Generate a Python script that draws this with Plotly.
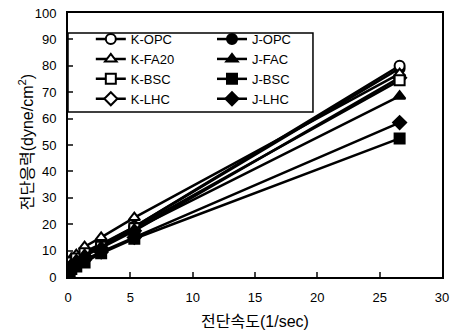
import plotly.graph_objects as go

shear_rate = [0.133, 0.266, 0.665, 1.33, 2.66, 5.32, 26.6]

k_opc = [4.5, 6.0, 7.5, 9.5, 12.5, 19.0, 80.0]
k_fa20 = [5.0, 7.0, 8.5, 11.5, 15.0, 22.5, 77.0]
k_bsc = [4.0, 5.5, 7.0, 9.0, 11.5, 18.5, 74.5]
k_lhc = [4.0, 5.0, 6.0, 8.0, 11.0, 17.5, 75.5]
j_opc = [4.5, 6.0, 7.0, 9.0, 12.0, 19.0, 79.0]
j_fac = [4.0, 5.0, 6.5, 8.5, 11.5, 18.0, 68.5]
j_bsc = [2.0, 3.0, 4.0, 5.5, 9.0, 14.5, 52.5]
j_lhc = [2.5, 3.5, 4.5, 6.5, 9.5, 15.0, 58.5]

legend_order = ["K-OPC", "K-FA20", "K-BSC", "K-LHC", "J-OPC", "J-FAC", "J-BSC", "J-LHC"]
draw_order = ["J-OPC", "K-LHC", "K-OPC", "K-FA20", "K-BSC", "J-FAC", "J-LHC", "J-BSC"]
values = {"K-OPC": k_opc, "K-FA20": k_fa20, "K-BSC": k_bsc, "K-LHC": k_lhc,
          "J-OPC": j_opc, "J-FAC": j_fac, "J-BSC": j_bsc, "J-LHC": j_lhc}
symbols = {"K-OPC": "circle", "K-FA20": "triangle-up", "K-BSC": "square",
           "K-LHC": "diamond", "J-OPC": "circle", "J-FAC": "triangle-up",
           "J-BSC": "square", "J-LHC": "diamond"}

fig = go.Figure()
for name in draw_order:
    hollow = name.startswith("K")
    fig.add_trace(go.Scatter(
        x=shear_rate, y=values[name], name=name, mode="lines+markers",
        line=dict(color="black", width=2.5),
        marker=dict(symbol=symbols[name], size=10, color="white" if hollow else "black",
                    line=dict(color="black", width=2)),
        legend="legend" if hollow else "legend2",
        legendrank=legend_order.index(name) + 1,
    ))

tickfont = dict(family="Liberation Sans, Arial, sans-serif", size=13, color="black")
legfont = dict(family="Liberation Sans, Arial, sans-serif", size=13, color="black")
titlefont = dict(family="Liberation Sans, Noto Sans CJK KR, sans-serif", size=16, color="black")
fig.update_layout(
    width=458, height=336,
    margin=dict(l=68, r=16, t=13, b=59),
    paper_bgcolor="white", plot_bgcolor="white",
    font=tickfont,
    legend=dict(x=0.061, y=0.958, xanchor="left", yanchor="top", bgcolor="rgba(0,0,0,0)",
                font=legfont, tracegroupgap=0, itemwidth=30),
    legend2=dict(x=0.385, y=0.958, xanchor="left", yanchor="top", bgcolor="rgba(0,0,0,0)",
                 font=legfont, tracegroupgap=0, itemwidth=30),
    xaxis=dict(range=[0, 30], dtick=5, ticks="inside", ticklen=5, tickwidth=1.5, automargin=False,
               ticklabelstandoff=7, tickfont=tickfont,
               showline=True, linecolor="black", linewidth=2, mirror=True, showgrid=False, zeroline=False,
               title=dict(text="전단속도(1/sec)", font=titlefont, standoff=12)),
    yaxis=dict(range=[0, 100], dtick=10, ticks="inside", ticklen=5, tickwidth=1.5, automargin=False,
               ticklabelstandoff=7, tickfont=tickfont,
               showline=True, linecolor="black", linewidth=2, mirror=True, showgrid=False, zeroline=False),
    annotations=[dict(text="전단응력(dyne/cm<sup>2</sup>)", font=titlefont, textangle=-90,
                      xref="paper", yref="paper", x=-0.11, y=0.51, xanchor="center", yanchor="middle",
                      showarrow=False)],
    shapes=[dict(type="rect", xref="paper", yref="paper", x0=0.0, x1=0.655, y0=0.625, y1=0.924,
                 line=dict(color="black", width=1.5))],
)

fig.write_html("out.html", config={"displayModeBar": False},
               post_script="document.body.style.margin='0';")
